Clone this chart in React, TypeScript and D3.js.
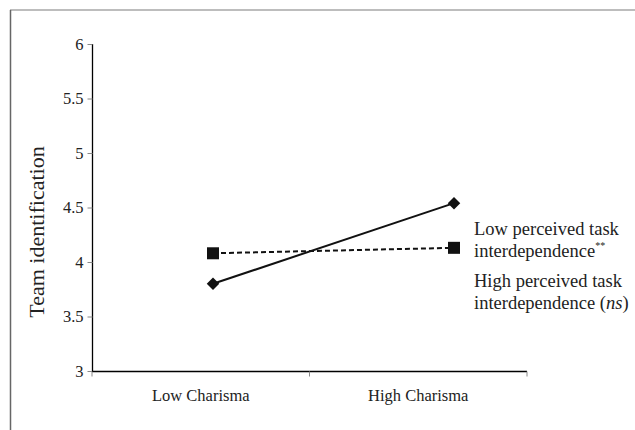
import React, { useEffect, useRef } from 'react';
import * as d3 from 'd3';

const categories = ['Low Charisma', 'High Charisma'];
const lowInterdependence = [3.8, 4.54];
const highInterdependence = [4.08, 4.13];
const yTicks = [3, 3.5, 4, 4.5, 5, 5.5, 6];

const App = () => {
  const ref = useRef<SVGSVGElement>(null);

  useEffect(() => {
    const svg = d3.select(ref.current);
    svg.selectAll('*').remove();

    const font = '"Liberation Serif", "Times New Roman", serif';

    // outer frame (top and left edges only)
    svg.append('line')
      .attr('x1', 10).attr('x2', 635).attr('y1', 10).attr('y2', 10)
      .attr('stroke', '#bdbdbd').attr('stroke-width', 2);
    svg.append('line')
      .attr('x1', 10.5).attr('x2', 10.5).attr('y1', 10).attr('y2', 430)
      .attr('stroke', '#666').attr('stroke-width', 1.5);

    const yScale = d3.scaleLinear().domain([3, 6]).range([371, 44]);
    const xBand = d3.scaleBand().domain(categories).range([92, 527]);
    const xPoint = d3.scalePoint().domain(categories).range([213, 454]);

    // y axis
    const yAxis = d3.axisLeft(yScale)
      .tickValues(yTicks)
      .tickFormat(d => String(d))
      .tickSize(5)
      .tickPadding(4);
    const gy = svg.append('g').attr('transform', 'translate(92.5,0)').call(yAxis)
      .attr('font-family', font).attr('font-size', 16.5);
    gy.select('.domain').attr('d', `M0,${yScale(6)}V${yScale(3)}`).attr('stroke', '#000').attr('stroke-width', 1.3);
    gy.selectAll('.tick line').attr('stroke', '#888');
    gy.selectAll('.tick text').attr('fill', '#222');

    // x axis
    const gx = svg.append('g').attr('transform', 'translate(0,371.5)');
    gx.append('line')
      .attr('x1', 92).attr('x2', 527).attr('stroke', '#000').attr('stroke-width', 1.3);
    const edges = [...categories.map(c => xBand(c) as number), xBand.range()[1]];
    gx.selectAll('line.tick')
      .data(edges)
      .enter().append('line')
      .attr('class', 'tick')
      .attr('x1', d => d).attr('x2', d => d)
      .attr('y1', 0).attr('y2', 5)
      .attr('stroke', '#888');
    gx.selectAll('text')
      .data(categories)
      .enter().append('text')
      .attr('x', d => (xBand(d) as number) + xBand.bandwidth() / 2)
      .attr('y', 29)
      .attr('text-anchor', 'middle')
      .attr('font-family', font).attr('font-size', 16.5).attr('fill', '#222')
      .text(d => d);

    // y label
    svg.append('text')
      .attr('transform', 'translate(44,232) rotate(-90)')
      .attr('text-anchor', 'middle')
      .attr('font-family', font).attr('font-size', 22).attr('fill', '#222')
      .text('Team identification');

    const line = d3.line<number>()
      .x((_, i) => xPoint(categories[i]) as number)
      .y(d => yScale(d));

    // high interdependence: dashed with squares
    svg.append('path')
      .attr('d', line(highInterdependence))
      .attr('fill', 'none').attr('stroke', '#111').attr('stroke-width', 2)
      .attr('stroke-dasharray', '5,3');
    svg.selectAll('rect.sq')
      .data(highInterdependence)
      .enter().append('rect')
      .attr('class', 'sq')
      .attr('x', (_, i) => (xPoint(categories[i]) as number) - 6)
      .attr('y', d => yScale(d) - 6)
      .attr('width', 12).attr('height', 12)
      .attr('fill', '#111');

    // low interdependence: solid with diamonds
    svg.append('path')
      .attr('d', line(lowInterdependence))
      .attr('fill', 'none').attr('stroke', '#111').attr('stroke-width', 2);
    svg.selectAll('path.dm')
      .data(lowInterdependence)
      .enter().append('path')
      .attr('class', 'dm')
      .attr('d', d3.symbol().type(d3.symbolDiamond2).size(100)())
      .attr('transform', (d, i) => `translate(${xPoint(categories[i])},${yScale(d)})`)
      .attr('fill', '#111');

    // legend text
    const lg = svg.append('g')
      .attr('font-family', font).attr('font-size', 18.5).attr('fill', '#222');
    lg.append('text').attr('x', 474).attr('y', 235).text('Low perceived task');
    const t2 = lg.append('text').attr('x', 474).attr('y', 257);
    t2.append('tspan').text('interdependence');
    t2.append('tspan').attr('font-size', 10).attr('dy', -8).text('**');
    lg.append('text').attr('x', 474).attr('y', 287).text('High perceived task');
    const t4 = lg.append('text').attr('x', 474).attr('y', 309);
    t4.append('tspan').text('interdependence (');
    t4.append('tspan').attr('font-style', 'italic').text('ns');
    t4.append('tspan').text(')');
  }, []);

  return (
    <svg ref={ref} width={635} height={430}
      style={{ position: 'absolute', left: 0, top: 0, background: '#fff' }} />
  );
};

export default App;
